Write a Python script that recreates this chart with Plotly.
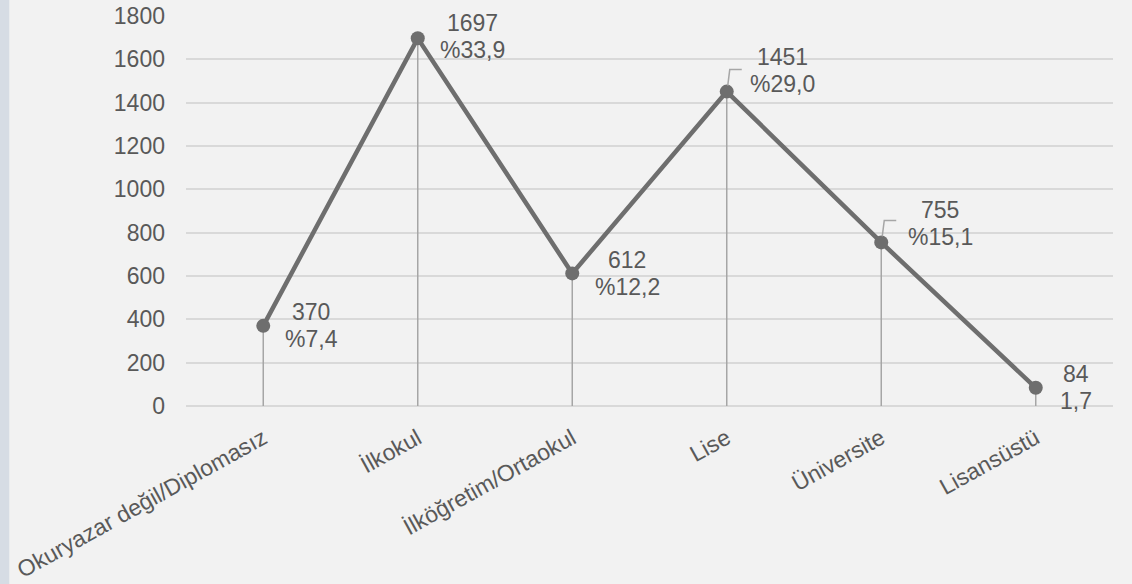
import plotly.graph_objects as go

# Education levels and respondent counts
categories = ["Okuryazar değil/Diplomasız", "İlkokul", "İlköğretim/Ortaokul",
              "Lise", "Üniversite", "Lisansüstü"]
counts = [370, 1697, 612, 1451, 755, 84]
share_labels = ["%7,4", "%33,9", "%12,2", "%29,0", "%15,1", "1,7"]
y_ticks = [0, 200, 400, 600, 800, 1000, 1200, 1400, 1600, 1800]

# label placement (pixel offsets from each point) and leader-line flags
label_dx = [48, 55, 55, 56, 59, 40]
label_dy = [0, 2, 0, 21, 19, 0]
has_leader = [False, False, False, True, True, False]

FONT = "Liberation Sans"
TEXT = "#595959"
LINE = "#6e6e6e"
GRID = "#d9d9d9"
BG = "#f2f2f2"

W, H = 1132, 584
ML, MR, MT, MB = 186, 19, 16, 178

fig = go.Figure()

# vertical drop lines from each point to the baseline
fig.add_trace(go.Scatter(
    x=categories, y=counts, mode="markers",
    marker=dict(size=1, opacity=0),
    error_y=dict(type="data", symmetric=False, array=[0] * len(counts),
                 arrayminus=counts, width=0, color="#a6a6a6", thickness=1.5),
    hoverinfo="skip", showlegend=False,
))

# main line with markers
fig.add_trace(go.Scatter(
    x=categories, y=counts, mode="lines+markers",
    line=dict(color=LINE, width=4.5),
    marker=dict(color=LINE, size=14),
    showlegend=False, cliponaxis=False,
))

annotations = []
shapes = []
for cat, val, pct, dx, dy, lead in zip(categories, counts, share_labels,
                                        label_dx, label_dy, has_leader):
    for txt, off in ((str(val), 13.5), (pct, -13.5)):
        annotations.append(dict(
            x=cat, y=val, xref="x", yref="y", text=txt, showarrow=False,
            xanchor="center", yanchor="middle", xshift=dx, yshift=dy + off,
            font=dict(family=FONT, size=23, color=TEXT),
        ))
    if lead:
        shapes.append(dict(
            type="path", xref="x", yref="y",
            xsizemode="pixel", ysizemode="pixel",
            xanchor=cat, yanchor=val,
            path="M 1 6 L 3 22 L 15 22",
            line=dict(color="#a6a6a6", width=1.5),
        ))

plot_w = W - ML - MR
plot_h = H - MT - MB
# light side strip along the left edge
shapes.append(dict(
    type="rect", xref="paper", yref="paper",
    x0=-ML / plot_w, x1=(9.3 - ML) / plot_w,
    y0=-MB / plot_h, y1=1 + MT / plot_h,
    fillcolor="#d6dce4", line=dict(width=0), layer="below",
))

fig.update_layout(
    width=W, height=H,
    margin=dict(l=ML, r=MR, t=MT, b=MB, autoexpand=False),
    paper_bgcolor=BG, plot_bgcolor=BG,
    font=dict(family=FONT, size=23, color=TEXT),
    annotations=annotations, shapes=shapes,
    xaxis=dict(
        type="category", range=[-0.5, len(categories) - 0.5], automargin=False,
        tickangle=-29, showgrid=False, showline=False, zeroline=False,
        ticks="outside", ticklen=9, tickcolor="rgba(0,0,0,0)",
        tickfont=dict(size=23, color=TEXT),
    ),
    yaxis=dict(
        range=[0, 1800], tickvals=y_ticks, automargin=False,
        showgrid=True, gridcolor=GRID,
        gridwidth=1.5, zeroline=True, zerolinecolor=GRID, zerolinewidth=1.5,
        showline=False, ticks="", tickfont=dict(size=23, color=TEXT),
        ticklabelstandoff=20,
    ),
)

fig.write_html("out.html")
